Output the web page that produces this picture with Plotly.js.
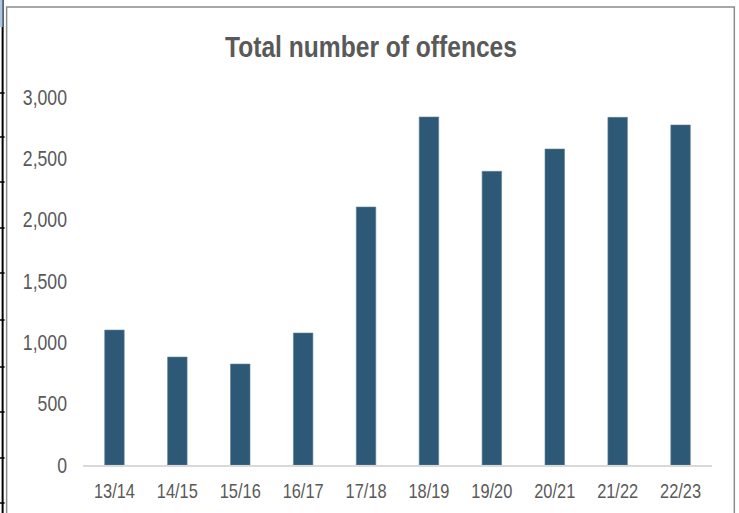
<!DOCTYPE html>
<html><head><meta charset="utf-8">
<script src="https://cdn.plot.ly/plotly-3.0.1.min.js"></script>
<style>html,body{margin:0;padding:0;background:#fff}#c{width:739px;height:513px}</style>
</head><body><div id="c"></div>
<script>
const categories = ["13/14","14/15","15/16","16/17","17/18","18/19","19/20","20/21","21/22","22/23"];
const offences = [1100, 880, 823, 1076, 2103, 2837, 2394, 2576, 2834, 2772];
const yTicks = [0, 500, 1000, 1500, 2000, 2500, 3000];
const yTickLabels = ["0","500","1,000","1,500","2,000","2,500","3,000"];

const W = 739, H = 513;
const m = {l: 83.3, r: 27.3, t: 97, b: 48};
const pw = W - m.l - m.r, ph = H - m.t - m.b;
const px = x => (x - m.l) / pw;
const py = y => (H - m.b - y) / ph;

const font = "'Liberation Sans', Arial, sans-serif";
const NARROW = 0.82;

const shapes = [
  {type:'rect', xref:'paper', yref:'paper', x0:px(7), x1:px(734), y0:py(520), y1:py(7),
   line:{color:'#8c8c8c', width:1.5}, fillcolor:'rgba(0,0,0,0)'},
  {type:'line', xref:'paper', yref:'paper', x0:px(3), x1:px(3), y0:py(513), y1:py(0),
   line:{color:'#000', width:2}},
  {type:'rect', xref:'paper', yref:'paper', x0:px(0), x1:px(3), y0:py(27), y1:py(0),
   line:{width:0}, fillcolor:'#a9c8e8'}
];
[93,137,182,228,273,320,367,412,458,503].forEach(y => shapes.push(
  {type:'line', xref:'paper', yref:'paper', x0:px(0), x1:px(5), y0:py(y), y1:py(y),
   line:{color:'#000', width:1.5}}));

function narrow(gd) {
  gd.querySelectorAll('.xtick text, .ytick text, .gtitle').forEach(el => {
    const x = parseFloat(el.getAttribute('x')) || 0;
    const t = el.getAttribute('transform') || '';
    el.setAttribute('transform', t + ` translate(${x},0) scale(${NARROW},1) translate(${-x},0)`);
  });
}

Plotly.newPlot('c', [{
  type:'bar', x:categories, y:offences, width:0.31,
  marker:{color:'#2d5976', line:{color:'#5f8098', width:0.6}},
  hoverinfo:'x+y'
}], {
  width:W, height:H, margin:m,
  paper_bgcolor:'#fff', plot_bgcolor:'#fff',
  showlegend:false,
  title:{text:'<b>Total number of offences</b>', x:371/W, xref:'container', xanchor:'center',
         y:1-47/H, yanchor:'middle', font:{family:font, size:30, color:'#595959'}},
  xaxis:{type:'category', showgrid:false, zeroline:false, showline:true,
         linecolor:'#d9d9d9', linewidth:1.5, ticks:'', fixedrange:true, ticklabelstandoff:8,
         tickfont:{family:font, size:20, color:'#595959'}},
  yaxis:{range:[0,3000], tickvals:yTicks, ticktext:yTickLabels, showgrid:false,
         zeroline:false, showline:false, ticks:'', ticklen:0, ticklabelstandoff:15,
         tickfont:{family:font, size:21.5, color:'#595959'}},
  shapes:shapes
}, {staticPlot:true}).then(narrow);
</script></body></html>
